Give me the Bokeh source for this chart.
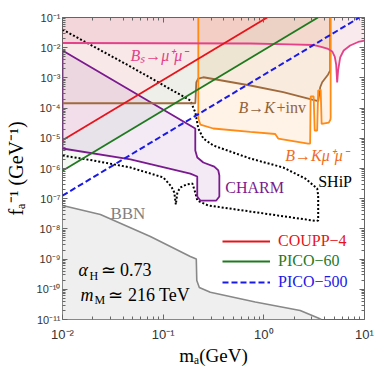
from bokeh.plotting import figure
from bokeh.models import (FixedTicker, LogAxis, CustomJSTickFormatter, Label,
                          Legend, LegendItem, Range1d)
from bokeh.embed import file_html
from bokeh.resources import INLINE

# ---------------- data ----------------
X_RANGE = (0.01, 10.0)
Y_RANGE = (1e-11, 1e-1)
X_TICKS = [0.01, 0.1, 1.0, 10.0]
Y_TICKS = [1e-11, 1e-10, 1e-9, 1e-8, 1e-7, 1e-6, 1e-5, 1e-4, 1e-3, 1e-2, 1e-1]
MINOR_MANTISSAS = [2, 3, 4, 5, 6, 7, 8, 9]

# B_s -> mu mu
bs_m = [0.01, 0.733, 1.83, 3.09, 3.80, 4.35, 4.78, 5.06, 5.23, 5.35, 5.47, 5.73, 6.21, 7.2, 8.65, 10.0]
bs_f = [1.43e-2, 1.38e-2, 1.28e-2, 1.23e-2, 1.05e-2, 9.1e-3, 7.5e-3, 5.1e-3, 2.78e-3, 7.05e-4,
        1.76e-3, 4.73e-3, 8.07e-3, 1.18e-2, 1.55e-2, 1.73e-2]

# B -> K + inv
binv_m = [0.01, 0.2087, 0.2133, 0.2234, 0.2506, 0.733, 1.557, 3.09, 3.47, 3.63, 3.80, 4.35, 4.56, 4.56]
binv_f = [1.45e-4, 1.45e-4, 7.05e-4, 9.55e-4, 1.05e-3, 5.6e-4, 3.36e-4, 1.88e-4, 1.7e-4, 4.9e-4,
          7.2e-4, 1.3e-3, 1.76e-3, 0.1]

# B -> K mu mu
bkmm_m = [0.2234, 0.2234, 0.234, 0.315, 0.733, 1.297, 1.39, 2.754, 2.884, 2.917, 3.126, 3.199,
          3.388, 3.467, 3.671, 3.75, 4.42, 4.59, 4.61, 4.61]
bkmm_f = [0.1, 4.53e-5, 2.86e-5, 2.11e-5, 1.62e-5, 1.39e-5, 9.8e-6, 6.7e-6, 6.7e-6, 2.42e-4,
          2.42e-4, 1.81e-5, 1.81e-5, 3.83e-4, 4.13e-4, 3.0e-5, 3.3e-5, 4.2e-5, 4.9e-5, 0.1]

# CHARM (closed contour)
charm_m = [0.01, 0.2085, 0.2085, 0.2183, 0.2506, 0.322, 0.353, 0.3615, 0.3615, 0.337, 0.234,
           0.218, 0.218, 0.186, 0.0473, 0.01]
charm_f = [8.07e-3, 2.11e-5, 3.94e-6, 2.31e-6, 1.58e-6, 1.16e-6, 8.6e-7, 5.87e-7, 1.18e-7,
           8.7e-8, 8.7e-8, 1.18e-7, 5.43e-7, 6.8e-7, 1.99e-6, 4.59e-6]

# SHiP (projection)
ship_m = [0.01, 0.0473, 0.186, 0.2087, 0.2234, 0.2506, 0.315, 0.4645, 0.733, 1.557, 2.576, 3.388,
          3.467, 3.467, 3.31, 0.2806, 0.2183, 0.2085, 0.195, 0.170, 0.148, 0.1383, 0.1336, 0.129,
          0.1205, 0.1004, 0.0473, 0.0203, 0.01]
ship_f = [3.99e-2, 2.38e-3, 1.79e-4, 7.15e-5, 2.11e-5, 9.84e-6, 5.78e-6, 3.66e-6, 2.14e-6, 1.08e-6,
          4.67e-7, 2.18e-7, 1.28e-7, 1.9e-8, 1.83e-8, 5.96e-8, 8.7e-8, 1.6e-7, 3.18e-7, 2.95e-7,
          2.35e-7, 1.6e-7, 6.43e-8, 1.6e-7, 2.54e-7, 5.04e-7, 1.08e-6, 1.84e-6, 2.69e-6]

# BBN
bbn_m = [0.01, 0.0238, 0.0746, 0.186, 0.2133, 0.2158, 0.2286, 0.294, 0.822, 2.296, 3.467, 3.71]
bbn_f = [5.96e-8, 3.0e-8, 5.6e-9, 1.22e-9, 1.0e-9, 1.95e-10, 1.15e-10, 8.0e-11, 3.8e-11,
         1.99e-11, 1.12e-11, 1e-11]

# direct detection lines
coupp_m = [0.01, 1.08]
coupp_f = [8.6e-6, 0.1]
pico60_m = [0.01, 3.45]
pico60_f = [8.4e-7, 0.1]
pico500_m = [0.01, 8.9]
pico500_f = [1.26e-7, 0.1]

# ---------------- colours ----------------
C_PINK = "#e4418a"
C_PINK_FILL = "#c83c64"
C_BROWN = "#a06a3c"
C_ORANGE = "#ff8a14"
C_PURPLE = "#7a1a8e"
C_RED = "#e5141c"
C_GREEN = "#1f7a1f"
C_BLUE = "#1a1ae6"
C_GRAY = "#888888"

SERIF = "Liberation Serif"
SANS = "Liberation Sans"

p = figure(frame_width=302, frame_height=302, x_axis_type="log", y_axis_type="log",
           x_range=Range1d(*X_RANGE), y_range=Range1d(*Y_RANGE),
           output_backend="svg", toolbar_location=None,
           min_border_left=62, min_border_right=10, min_border_top=17, min_border_bottom=48,
           background_fill_color="white", border_fill_color="white")
p.grid.visible = False
p.outline_line_color = "#666666"
p.outline_line_width = 1

xa = p.below[0]
ya = p.left[0]

x0, x1 = X_RANGE
y0, y1 = Y_RANGE

# ---------------- fills ----------------
p.patch(bbn_m + [x0], bbn_f + [y0], fill_color="#efefef", line_color=None)
p.patch(pico60_m + coupp_m[::-1], pico60_f + coupp_f[::-1],
        fill_color=C_GREEN, fill_alpha=0.055, line_color=None)
p.patch(coupp_m + [x0], coupp_f + [y1], fill_color=C_RED, fill_alpha=0.055, line_color=None)
p.patch(bs_m + [x1, x0], bs_f + [y1, y1], fill_color=C_PINK_FILL, fill_alpha=0.11, line_color=None)
p.patch(binv_m + [x0], binv_f + [y1], fill_color=C_BROWN, fill_alpha=0.06, line_color=None)
p.patch(bkmm_m, bkmm_f, fill_color=C_ORANGE, fill_alpha=0.10, line_color=None)
p.patch(charm_m, charm_f, fill_color=C_PURPLE, fill_alpha=0.09, line_color=None)

# ---------------- lines ----------------
p.line(bbn_m, bbn_f, line_color=C_GRAY, line_width=1.6)
p.line(ship_m, ship_f, line_color="black", line_width=2, line_dash="2 2")
p.line(charm_m + [charm_m[0]], charm_f + [charm_f[0]], line_color=C_PURPLE, line_width=1.8)
p.line(binv_m, binv_f, line_color=C_BROWN, line_width=1.8)
p.line(bkmm_m, bkmm_f, line_color=C_ORANGE, line_width=1.8)
p.line(bs_m, bs_f, line_color=C_PINK, line_width=1.8)
r_green = p.line(pico60_m, pico60_f, line_color=C_GREEN, line_width=1.8)
r_red = p.line(coupp_m, coupp_f, line_color=C_RED, line_width=1.8)
r_blue = p.line(pico500_m, pico500_f, line_color=C_BLUE, line_width=2, line_dash="6 3")

# ---------------- axes ----------------
def minors(ticks):
    out = []
    for t in ticks[:-1]:
        out += [t * k for k in MINOR_MANTISSAS]
    return out

fmt_code = """
const sup = {"-": "\u207b", "0": "\u2070", "1": "\u00b9", "2": "\u00b2", "3": "\u00b3",
             "4": "\u2074", "5": "\u2075", "6": "\u2076", "7": "\u2077", "8": "\u2078", "9": "\u2079"};
const e = Math.round(Math.log10(tick));
return "10" + String(e).split("").map(c => sup[c]).join("");
"""

def style(ax, ticks, labels, size="11px", standoff=3):
    ax.ticker = FixedTicker(ticks=ticks, minor_ticks=minors(ticks))
    ax.major_tick_in = 5
    ax.major_tick_out = 0
    ax.minor_tick_in = 3
    ax.minor_tick_out = 0
    ax.major_tick_line_color = "#666666"
    ax.minor_tick_line_color = "#666666"
    ax.axis_line_color = None
    if labels:
        ax.formatter = CustomJSTickFormatter(code=fmt_code)
        ax.major_label_text_font = SANS
        ax.major_label_text_font_size = size
        ax.major_label_text_color = "#333333"
        ax.major_label_standoff = standoff
    else:
        ax.formatter = CustomJSTickFormatter(code="return '';")
        ax.major_label_text_font_size = "0px"
        ax.major_label_standoff = 0
        ax.axis_label = None

style(xa, X_TICKS, True, "13px", 7)
style(ya, Y_TICKS, True, "11px", 2)
top_ax = LogAxis()
right_ax = LogAxis()
p.add_layout(top_ax, "above")
p.add_layout(right_ax, "right")
style(top_ax, X_TICKS, False)
style(right_ax, Y_TICKS, False)

# axis titles
xa.axis_label = "m\u2090(GeV)"
xa.axis_label_text_font = SERIF
xa.axis_label_text_font_size = "19px"
xa.axis_label_text_font_style = "normal"
xa.axis_label_text_color = "black"
xa.axis_label_standoff = 0

ya.axis_label = "f\u2090\u207b\u00b9 (GeV\u207b\u00b9)"
ya.axis_label_text_font = SERIF
ya.axis_label_text_font_size = "20px"
ya.axis_label_text_font_style = "normal"
ya.axis_label_text_color = "black"
ya.axis_label_standoff = 7

# ---------------- in-plot annotations (data units) ----------------
def dlabel(text, m, f, color, size="16px", style_="normal"):
    p.add_layout(Label(x=m, y=f, text=text, text_font=SERIF, text_font_size=size,
                       text_font_style=style_, text_color=color, text_align="left",
                       text_baseline="middle"))

dlabel("B\u209b\u2192\u03bc\u207a\u03bc\u207b", 0.0473, 5.5e-3, C_PINK, "16px", "italic")
dlabel("B\u2192K", 0.560, 1.047e-4, "#946238", "16px", "italic")
dlabel("+inv", 1.336, 1.047e-4, "#946238", "16px")
dlabel("B\u2192K\u03bc\u207a\u03bc\u207b", 1.63, 2.7e-6, "#f26c1c", "16px", "italic")
dlabel("CHARM", 0.414, 2.34e-7, C_PURPLE, "16px")
dlabel("SHiP", 3.47, 3.7e-7, "black", "16px")
dlabel("BBN", 0.0299, 3.24e-8, "#808080", "17px")
dlabel("\u03b1", 0.01442, 4.2e-10, "black", "18px", "italic")
dlabel("H", 0.01854, 2.86e-10, "black", "12px")
dlabel("\u2243 0.73", 0.02385, 4.2e-10, "black", "18px")
dlabel("m", 0.0151, 6.24e-11, "black", "18px", "italic")
dlabel("M", 0.0208, 4.59e-11, "black", "12px")
dlabel("\u2243 216 TeV", 0.0286, 6.24e-11, "black", "18px")

# ---------------- legend ----------------
for r, lab, col, vy in [(r_red, "COUPP\u22124", C_RED, 69),
                        (r_green, "PICO\u221260", C_GREEN, 49),
                        (r_blue, "PICO\u2212500", C_BLUE, 28)]:
    lg = Legend(items=[LegendItem(label=lab, renderers=[r])], location=(160, vy),
                orientation="vertical", padding=0, margin=0, spacing=0,
                glyph_width=48, glyph_height=18, label_height=18, label_standoff=8,
                label_text_font=SERIF, label_text_font_size="16px", label_text_color=col,
                border_line_color=None, background_fill_alpha=0)
    p.add_layout(lg)

open("out.html", "w").write(file_html(p, INLINE))
